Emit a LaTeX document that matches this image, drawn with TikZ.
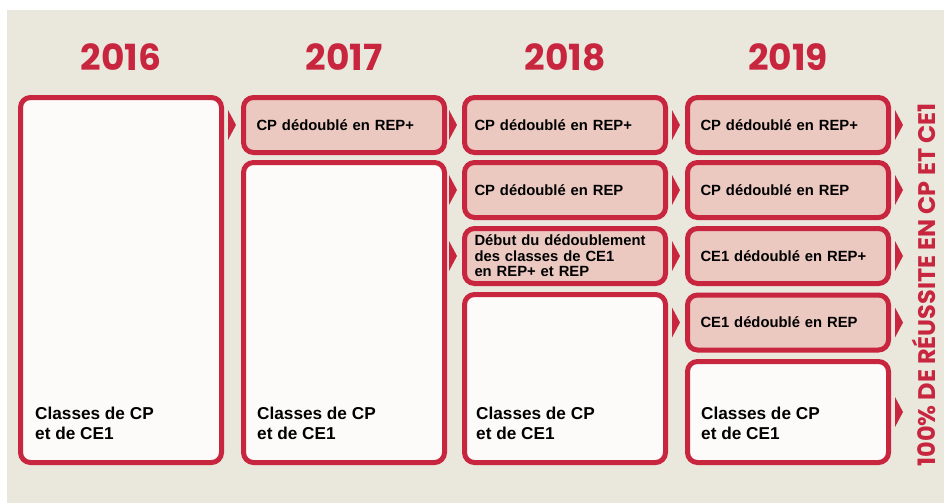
\documentclass[tikz,border=0pt]{standalone}
\usepackage{fontspec}
\setmainfont{Liberation Sans}
\newfontfamily\anfont{Poppins}
\usetikzlibrary{calc}
\definecolor{rouge}{RGB}{200,38,62}
\definecolor{rose}{RGB}{235,201,193}
\definecolor{creme}{RGB}{234,231,221}
\definecolor{blanc}{RGB}{252,251,249}
\newcommand{\pointe}[1]{\fill[rouge] ($(#1.west)+(-13,-15)$) -- ($(#1.west)+(-5,0)$) -- ($(#1.west)+(-13,15)$) -- cycle;}
\newcommand{\pointd}[1]{\fill[rouge] ($(#1.east)+(4,-15)$) -- ($(#1.east)+(12,0)$) -- ($(#1.east)+(4,15)$) -- cycle;}

\begin{document}
\begin{tikzpicture}[
  x=1pt, y=-1pt,
  cadre/.style={draw=rouge, line width=5pt, rounded corners=10pt, minimum width=201pt, inner sep=0pt},
  rbox/.style={cadre, fill=rose, minimum height=55pt, align=left, text width=175pt,
    font=\bfseries\fontsize{14.8}{15.5}\selectfont},
  rbox3/.style={rbox, text width=181pt},
  wbox/.style={cadre, fill=blanc},
  cls/.style={anchor=base west, inner sep=0pt, align=left, font=\bfseries\fontsize{17.2}{20}\selectfont},
  an/.style={text=rouge, font=\anfont\bfseries\fontsize{36}{36}\selectfont},
  bandeau/.style={text=rouge, rotate=90, inner sep=0pt, font=\anfont\bfseries\fontsize{24}{24}\selectfont}
]
\def\xA{121}\def\xB{344}\def\xC{565}\def\xD{788}
\def\ya{125}\def\yb{190}\def\yc{256}\def\yd{322.5}

\useasboundingbox (0,0) rectangle (944,503);
\fill[white] (0,0) rectangle (944,503);
\fill[creme] (7,10) rectangle (944,503);

% annees
\node[an] (n1) at (\xA,57) {2016};
\node[an] (n2) at (\xB,57) {2017};
\node[an] (n3) at (\xC,57) {2018};
\node[an] (n4) at (\xD,57) {2019};

% 2016
\node[wbox, minimum height=365pt] (a5) at (\xA,280) {};
% 2017
\node[rbox] (b1) at (\xB,\ya) {CP dédoublé en REP+};
\node[wbox, minimum height=300pt] (b5) at (\xB,312.5) {};
% 2018
\node[rbox3] (c1) at (\xC,\ya) {CP dédoublé en REP+};
\node[rbox3] (c2) at (\xC,\yb) {CP dédoublé en REP};
\node[rbox3] (c3) at (\xC,\yc) {Début du dédoublement\\des classes de CE1\\en REP+ et REP};
\node[wbox, minimum height=168pt] (c5) at (\xC,378.5) {};
% 2019
\node[rbox] (d1) at (\xD,\ya) {CP dédoublé en REP+};
\node[rbox] (d2) at (\xD,\yb) {CP dédoublé en REP};
\node[rbox] (d3) at (\xD,\yc) {CE1 dédoublé en REP+};
\node[rbox] (d4) at (\xD,\yd) {CE1 dédoublé en REP};
\node[wbox, minimum height=101pt] (d5) at (\xD,412) {};

% textes du bas
\node[cls] (l1) at (35,439) {Classes de CP\\et de CE1};
\node[cls] (l2) at (257,439) {Classes de CP\\et de CE1};
\node[cls] (l3) at (476,439) {Classes de CP\\et de CE1};
\node[cls] (l4) at (701,439) {Classes de CP\\et de CE1};

% pointes
\foreach \b in {b1,c1,c2,c3,d1,d2,d3,d4}{\pointe{\b}}
\foreach \b in {d1,d2,d3,d4,d5}{\pointd{\b}}

\node[bandeau] (cible) at (924,285) {100\% DE RÉUSSITE EN CP ET CE1};
\end{tikzpicture}
\end{document}
